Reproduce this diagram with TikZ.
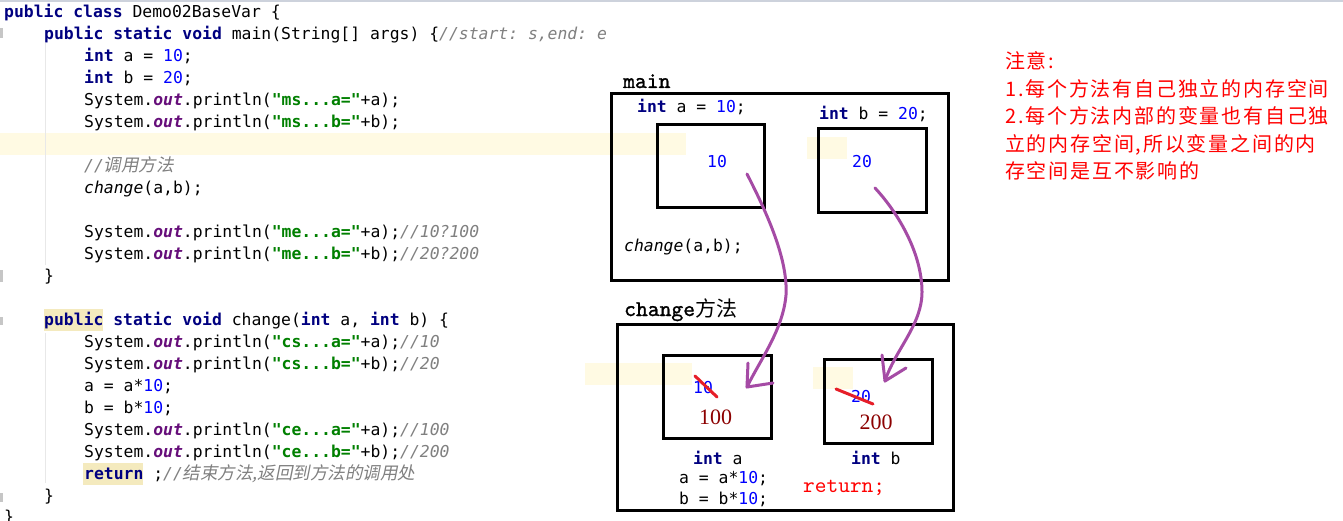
\documentclass[tikz,border=0pt]{standalone}
\usepackage{fontspec}
\setmonofont{DejaVu Sans Mono}
\newfontfamily\cjk{Noto Sans CJK SC}
\newfontfamily\cjkit{Noto Sans CJK SC}[FakeSlant=0.2]
\newfontfamily\cjknote{Noto Sans CJK SC}[LetterSpace=9]
\newfontfamily\lblfont{lmmono10-regular.otf}[FakeBold=1.2]
\newfontfamily\retfont{lmmono10-regular.otf}
\newfontfamily\serifnum{Liberation Serif}
\definecolor{kwc}{RGB}{0,0,128}
\definecolor{numc}{RGB}{0,0,255}
\definecolor{strc}{RGB}{0,128,0}
\definecolor{outc}{RGB}{102,14,122}
\definecolor{cmtc}{RGB}{128,128,128}
\definecolor{hlc}{RGB}{255,250,227}
\definecolor{tanc}{RGB}{244,234,190}
\definecolor{arrc}{RGB}{165,75,165}
\definecolor{dred}{RGB}{140,0,0}
\definecolor{guidec}{RGB}{232,232,232}
\definecolor{topc}{RGB}{205,210,220}
\definecolor{strikec}{RGB}{230,30,40}
\newcommand\jkw[1]{{\color{kwc}\bfseries #1}}
\newcommand\jnum[1]{{\color{numc}#1}}
\newcommand\jstr[1]{{\color{strc}\bfseries #1}}
\newcommand\jout{{\color{outc}\bfseries\itshape out}}
\newcommand\jcmt[1]{{\color{cmtc}\itshape #1}}
\newcommand\jcj[1]{{\cjkit\fontsize{17.5}{20}\selectfont #1}}
\tikzset{
  code/.style={anchor=base west, inner sep=0pt, font=\ttfamily\fontsize{16.4}{20}\selectfont},
  membox/.style={draw, line width=3pt, inner sep=0pt},
  lbl/.style={anchor=base west, inner sep=0pt, font=\lblfont\fontsize{22.5}{24}\selectfont},
  note/.style={anchor=base west, inner sep=0pt, text=red, font=\cjknote\fontsize{20}{24}\selectfont},
  bignum/.style={anchor=base, inner sep=0pt, text=dred, font=\serifnum\fontsize{22}{24}\selectfont},
  parr/.style={draw=arrc, line width=3pt, line cap=round, line join=round},
  strike/.style={draw=strikec, line width=3pt, line cap=round},
}
\begin{document}
\begin{tikzpicture}[x=1pt,y=-1pt]
\useasboundingbox (0,0) rectangle (1343,521);
\fill[white] (0,0) rectangle (1343,521);
\fill[topc] (0,0) rectangle (1343,2);
% editor highlights
\fill[hlc] (0,133) rectangle (686,155);
\fill[hlc] (807,137) rectangle (847,159);
\fill[hlc] (585,363) rectangle (692,385);
\fill[hlc] (813,367) rectangle (853,389);
\fill[tanc] (43.5,309) rectangle (103,331);
\fill[tanc] (83,463) rectangle (143,485);
% gutter marks and indent guides
\fill[gray!45] (0,28) rectangle (3,38);
\fill[gray!45] (0,270) rectangle (3,282);
\fill[gray!45] (0,317) rectangle (3,325);
\fill[gray!45] (0,493) rectangle (3,502);
\draw[guidec, line width=1pt] (45.5,43) -- (45.5,265);
\draw[guidec, line width=1pt] (45.5,333) -- (45.5,483);
% code
\node[code] (L1) at (4,17.8) {\jkw{public class} Demo02BaseVar \{};
\node[code] (L2) at (44,39.8) {\jkw{public static void} main(String[] args) \{\jcmt{//start: s,end: e}};
\node[code] (L3) at (84,61.8) {\jkw{int} a = \jnum{10};};
\node[code] (L4) at (84,83.8) {\jkw{int} b = \jnum{20};};
\node[code] (L5) at (84,105.8) {System.\jout.println(\jstr{"ms...a="}+a);};
\node[code] (L6) at (84,127.8) {System.\jout.println(\jstr{"ms...b="}+b);};
\node[code] (L8) at (84,171.8) {\jcmt{//\jcj{调用方法}}};
\node[code] (L9) at (84,193.8) {\textit{change}(a,b);};
\node[code] (L11) at (84,237.8) {System.\jout.println(\jstr{"me...a="}+a);\jcmt{//10?100}};
\node[code] (L12) at (84,259.8) {System.\jout.println(\jstr{"me...b="}+b);\jcmt{//20?200}};
\node[code] (L13) at (44,281.8) {\}};
\node[code] (L15) at (44,325.8) {\jkw{public static void} change(\jkw{int} a, \jkw{int} b) \{};
\node[code] (L16) at (84,347.8) {System.\jout.println(\jstr{"cs...a="}+a);\jcmt{//10}};
\node[code] (L17) at (84,369.8) {System.\jout.println(\jstr{"cs...b="}+b);\jcmt{//20}};
\node[code] (L18) at (84,391.8) {a = a*\jnum{10};};
\node[code] (L19) at (84,413.8) {b = b*\jnum{10};};
\node[code] (L20) at (84,435.8) {System.\jout.println(\jstr{"ce...a="}+a);\jcmt{//100}};
\node[code] (L21) at (84,457.8) {System.\jout.println(\jstr{"ce...b="}+b);\jcmt{//200}};
\node[code] (L22) at (84,479.8) {\jkw{return} ;\jcmt{//\jcj{结束方法,返回到方法的调用处}}};
\node[code] (L23) at (44,501.8) {\}};
\node[code] (L24) at (4,522.5) {\}};
% main frame
\node[lbl] (mainlbl) at (623,88) {main};
\node[membox, minimum width=337, minimum height=186] (mainbox) at (779.5,187) {};
\node[code] (mia) at (637,113) {\jkw{int} a = \jnum{10};};
\node[code] (mib) at (819,120) {\jkw{int} b = \jnum{20};};
\node[membox, minimum width=107, minimum height=83] (ma) at (710.5,166.5) {};
\node[membox, minimum width=108, minimum height=84] (mb) at (872,171) {};
\node[code] (mav) at (707,168) {\jnum{10}};
\node[code] (mbv) at (852,168) {\jnum{20}};
\node[code] (mcall) at (624,252) {\textit{change}(a,b);};
% change frame
\node[lbl] (chlbl) at (624,316) {change{\cjk\fontsize{21}{24}\selectfont 方法}};
\node[membox, minimum width=336, minimum height=186] (chbox) at (785,417) {};
\node[membox, minimum width=108, minimum height=83] (ca) at (717,396.5) {};
\node[membox, minimum width=108, minimum height=84] (cb) at (878,401) {};
\node[code] (cav) at (693,393) {\jnum{10}};
\node[code] (cbv) at (851,402) {\jnum{20}};
\draw[strike] (695,376) -- (717,397);
\draw[strike] (836,389) -- (873,404);
\node[bignum] (can) at (715.5,424) {100};
\node[bignum] (cbn) at (876,429) {200};
\node[code] (cia) at (693,464) {\jkw{int} a};
\node[code] (cib) at (851,464) {\jkw{int} b};
\node[code] (cmula) at (679,483) {a = a*\jnum{10};};
\node[code] (cmulb) at (679,504) {b = b*\jnum{10};};
\node[anchor=base west, inner sep=0pt, text=red, font=\retfont\fontsize{22.3}{24}\selectfont] (cret) at (803,492) {return;};
% arrows
\coordinate (a1s) at (747,174);
\coordinate (a1m) at (786,295);
\coordinate (a1t) at (747,387);
\coordinate (a2s) at (875,188);
\coordinate (a2m) at (922,292);
\coordinate (a2t) at (885,381);
\draw[parr] (a1s) .. controls (768,215) and (788,260) .. (a1m) .. controls (783,330) and (760,360) .. (a1t);
\draw[parr] (a1t) ++(1,-24) -- (a1t) -- ++(26,-4);
\draw[parr] (a2s) .. controls (900,215) and (922,255) .. (a2m) .. controls (922,325) and (895,350) .. (a2t);
\draw[parr] (a2t) ++(-3,-26) -- (a2t) -- ++(21,-13);
% note
\node[note] (n1) at (1005,69) {注意:};
\node[note] (n2) at (1005,97) {1.每个方法有自己独立的内存空间};
\node[note] (n3) at (1005,124) {2.每个方法内部的变量也有自己独};
\node[note] (n4) at (1005,152) {立的内存空间,所以变量之间的内};
\node[note] (n5) at (1005,179) {存空间是互不影响的};
\end{tikzpicture}
\end{document}
